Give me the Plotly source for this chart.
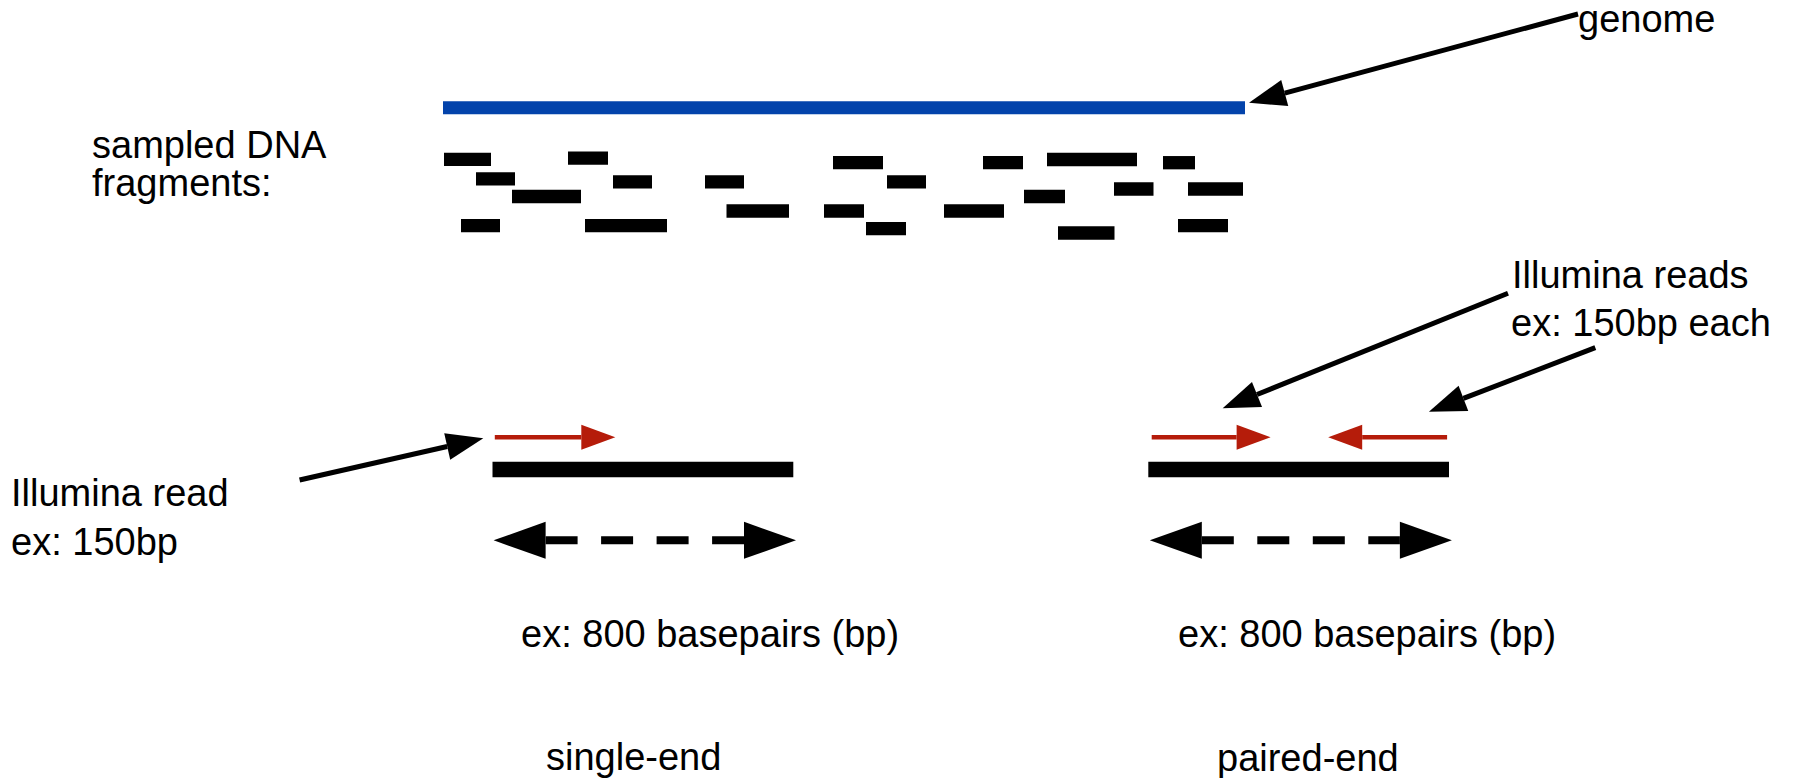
import math
import plotly.graph_objects as go

W, H = 1802, 778

# ---- data -----------------------------------------------------------------
genome_start, genome_end, genome_y = 443, 1245, 107.7

frag_start = [444, 568, 476, 613, 705, 512, 833, 887, 983, 1047, 1163,
              1114, 1188, 1024, 726.5, 824, 944, 461, 585, 866, 1058, 1178]
frag_end = [491, 608, 515, 652, 744, 581, 883, 926, 1023, 1137, 1195,
            1153.5, 1243, 1065, 789, 864, 1004, 500, 667, 906, 1114.5, 1228]
frag_y = [159.3, 158.2, 178.8, 181.8, 181.8, 196.5, 162.7, 181.8, 162.7,
          159.5, 162.7, 189, 189, 196.5, 211, 211, 211, 225.7, 225.7, 228.7,
          233, 225.7]

# sequenced fragment (single-end, paired-end)
insert_start = [492.5, 1148.3]
insert_end = [793.3, 1449]
insert_y = 469.5

# Illumina reads (tail x, tip x)
read_tail = [494.8, 1151.7, 1447.1]
read_tip = [615.3, 1270.6, 1328.2]
read_y = 437.3

# insert-size double arrows
span_left = [493.6, 1149.8]
span_right = [796, 1451.9]
span_y = 540.3

# pointer arrows (tail -> tip)
ptr_tail_x = [1578, 299.6, 1508, 1595.3]
ptr_tail_y = [14, 480, 293.3, 347.7]
ptr_tip_x = [1249, 483.3, 1222.7, 1428.9]
ptr_tip_y = [102.7, 438.3, 408.3, 411.7]

labels = ["genome", "sampled DNA", "fragments:", "Illumina read", "ex: 150bp",
          "Illumina reads", "ex: 150bp each", "ex: 800 basepairs (bp)",
          "ex: 800 basepairs (bp)", "single-end", "paired-end"]
label_x = [1580, 94, 94, 13, 13, 1514, 1513, 523, 1180, 548, 1219]
label_base = [32.5, 158.5, 196, 506.5, 555, 288, 336.5, 647, 647, 770, 771]

# ---- styles ---------------------------------------------------------------
BLUE = "#0343AB"
RED = "#B51C0A"
BLACK = "#000000"
FS = 38
FONT = "Liberation Sans, Arial, sans-serif"

shapes = []


def rect(x0, x1, yc, th, color):
    shapes.append(dict(type="rect", xref="x", yref="y", x0=x0, x1=x1,
                       y0=yc - th / 2, y1=yc + th / 2, fillcolor=color,
                       line=dict(width=0), layer="above"))


def arrow(tx0, ty0, tx1, ty1, color, lw, hl, hw, dash=None, head_at_start=False):
    dx, dy = tx1 - tx0, ty1 - ty0
    d = math.hypot(dx, dy)
    ux, uy = dx / d, dy / d
    nx, ny = -uy, ux
    sx, sy = tx0, ty0
    if head_at_start:
        sx, sy = tx0 + ux * hl, ty0 + uy * hl
    bx, by = tx1 - ux * hl, ty1 - uy * hl
    ln = dict(color=color, width=lw)
    if dash:
        ln["dash"] = dash
    shapes.append(dict(type="line", xref="x", yref="y", x0=sx, y0=sy,
                       x1=bx, y1=by, line=ln, layer="above"))

    def head(px, py, vx, vy):
        cx, cy = px - vx * hl, py - vy * hl
        p1 = (cx + nx * hw / 2, cy + ny * hw / 2)
        p2 = (cx - nx * hw / 2, cy - ny * hw / 2)
        path = f"M{px},{py} L{p1[0]},{p1[1]} L{p2[0]},{p2[1]} Z"
        shapes.append(dict(type="path", xref="x", yref="y", path=path,
                           fillcolor=color, line=dict(width=0), layer="above"))

    head(tx1, ty1, ux, uy)
    if head_at_start:
        head(tx0, ty0, -ux, -uy)


# genome
rect(genome_start, genome_end, genome_y, 13, BLUE)
# fragments
for a, b, y in zip(frag_start, frag_end, frag_y):
    rect(a, b, y, 13.3, BLACK)
# inserts
for a, b in zip(insert_start, insert_end):
    rect(a, b, insert_y, 15.7, BLACK)
# reads
for a, b in zip(read_tail, read_tip):
    arrow(a, read_y, b, read_y, RED, 4.5, 34, 25)
# spans
for a, b in zip(span_left, span_right):
    arrow(a, span_y, b, span_y, BLACK, 8, 52, 37, dash="32px,23.5px",
          head_at_start=True)
# pointers
for x0, y0, x1, y1 in zip(ptr_tail_x, ptr_tail_y, ptr_tip_x, ptr_tip_y):
    arrow(x0, y0, x1, y1, BLACK, 5, 37, 27)

annotations = []
for t, x, yb in zip(labels, label_x, label_base):
    annotations.append(dict(text=t, x=x - 4, y=yb - 0.3465 * FS, xref="x",
                            yref="y", xanchor="left", yanchor="middle",
                            showarrow=False,
                            font=dict(family=FONT, size=FS, color=BLACK)))

fig = go.Figure()
fig.add_trace(go.Scatter(x=[0, W], y=[0, H], mode="markers",
                         marker=dict(opacity=0), hoverinfo="skip",
                         showlegend=False))
fig.update_layout(
    width=W, height=H, margin=dict(l=0, r=0, t=0, b=0, pad=0),
    paper_bgcolor="white", plot_bgcolor="white",
    xaxis=dict(range=[0, W], visible=False, fixedrange=True),
    yaxis=dict(range=[H, 0], visible=False, fixedrange=True),
    shapes=shapes, annotations=annotations, showlegend=False,
)
fig.write_html("out.html", config={"displayModeBar": False},
               post_script="document.body.style.margin='0';")
